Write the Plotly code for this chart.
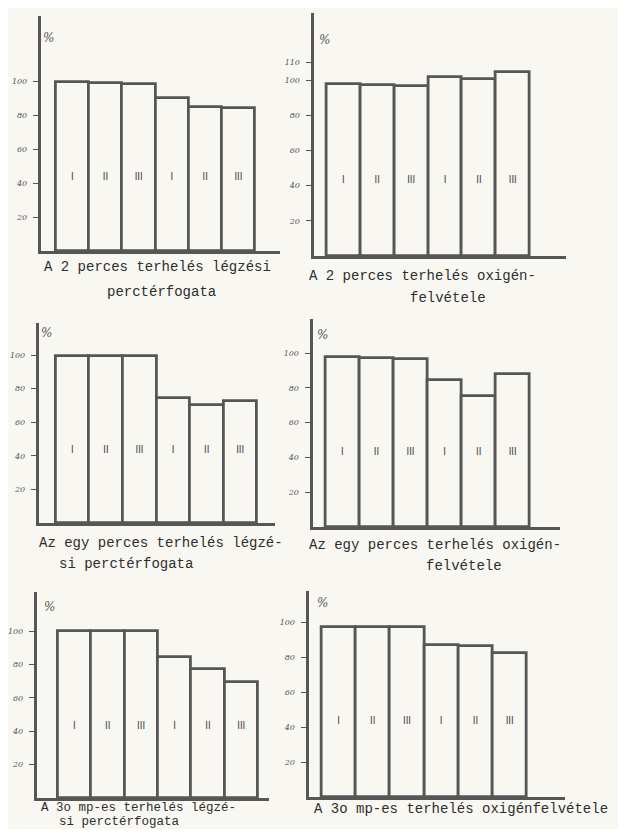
import plotly.graph_objects as go

# The page body has an 8 px margin, so the figure is drawn inside it and
# every pixel position below (measured on the 626x837 screen) is shifted.
OFF = 8
W, H = 626 - 2 * OFF, 837 - 2 * OFF

# ---- data ----
groups = ["I", "II", "III", "I", "II", "III"]
vent_2min = [99.4, 98.8, 98.2, 90.0, 84.7, 84.1]
oxy_2min = [97.7, 97.2, 96.6, 101.7, 100.6, 104.5]
vent_1min = [99.4, 99.4, 99.4, 74.4, 70.2, 72.6]
oxy_1min = [97.7, 97.1, 96.6, 84.5, 75.3, 87.9]
vent_30s = [100.0, 100.0, 100.0, 84.4, 77.2, 69.5]
oxy_30s = [97.1, 97.1, 97.1, 86.9, 86.3, 82.3]
ticks_std = [20, 40, 60, 80, 100]
ticks_110 = [20, 40, 60, 80, 100, 110]

cap_vent_2 = ["A 2 perces terhelés légzési", "perctérfogata"]
cap_oxy_2 = ["A 2 perces terhelés oxigén-", "felvétele"]
cap_vent_1 = ["Az egy perces terhelés légzé-", "si perctérfogata"]
cap_oxy_1 = ["Az egy perces terhelés oxigén-", "felvétele"]
cap_vent_30 = ["A 3o mp-es terhelés légzé-", "si perctérfogata"]
cap_oxy_30 = ["A 3o mp-es terhelés oxigénfelvétele"]

# ---- panel geometry (screen pixels) ----
panels = [
    dict(vals=vent_2min, ticks=ticks_std, ax=36, bl=51, br=252, end=277, base=251, top=16, ppu=1.70,
         pct=(44, 38), cap=cap_vent_2, cap_pos=[(38, 267, "left"), (158, 292, "center")], cs=14),
    dict(vals=oxy_2min, ticks=ticks_110, ax=311, bl=324, br=529, end=566, base=256, top=13, ppu=1.76,
         pct=(322, 40), cap=cap_oxy_2, cap_pos=[(305, 276, "left"), (407, 298, "left")], cs=14),
    dict(vals=vent_1min, ticks=ticks_std, ax=34, bl=51, br=254, end=272, base=523, top=323, ppu=1.68,
         pct=(42, 333), cap=cap_vent_1, cap_pos=[(33, 543, "left"), (53, 564, "left")], cs=14),
    dict(vals=oxy_1min, ticks=ticks_std, ax=310, bl=323, br=529, end=560, base=527, top=319, ppu=1.74,
         pct=(320, 335), cap=cap_oxy_1, cap_pos=[(305, 545, "left"), (423, 566, "left")], cs=14),
    dict(vals=vent_30s, ticks=ticks_std, ax=32, bl=53, br=255, end=266, base=798, top=592, ppu=1.67,
         pct=(45, 607), cap=cap_vent_30, cap_pos=[(35, 808, "left"), (53, 822, "left")], cs=12.5),
    dict(vals=oxy_30s, ticks=ticks_std, ax=306, bl=319, br=526, end=565, base=797, top=591, ppu=1.75,
         pct=(320, 603), cap=cap_oxy_30, cap_pos=[(310, 809, "left")], cs=14),
]

INK = "#565656"
PAPER = "#f8f7f2"
LABEL_Y = 43


def px(x):
    return (x - OFF) / W


def py(y):
    return 1 - (y - OFF) / H


fig = go.Figure()
annotations = []
layout_axes = {}

for i, p in enumerate(panels, start=1):
    xa = "x" if i == 1 else f"x{i}"
    ya = "y" if i == 1 else f"y{i}"
    xs = list(range(len(p["vals"])))
    fig.add_trace(go.Bar(
        x=xs, y=p["vals"], width=1.0, xaxis=xa, yaxis=ya,
        marker=dict(color=PAPER, line=dict(color=INK, width=2.8)),
        showlegend=False, hoverinfo="skip",
    ))
    fig.add_trace(go.Scatter(
        x=xs, y=[LABEL_Y] * len(xs), mode="text", text=groups,
        textfont=dict(family="DejaVu Sans Condensed, DejaVu Sans", size=10, color="#3a3a3a"),
        xaxis=xa, yaxis=ya, showlegend=False, hoverinfo="skip",
    ))
    unit_x = (p["br"] - p["bl"]) / len(xs)
    xr = [-0.5 - (p["bl"] - p["ax"]) / unit_x, len(xs) - 0.5 + (p["end"] - p["br"]) / unit_x]
    yr = [0, (p["base"] - p["top"]) / p["ppu"]]
    xkey = "xaxis" if i == 1 else f"xaxis{i}"
    ykey = "yaxis" if i == 1 else f"yaxis{i}"
    layout_axes[xkey] = dict(
        domain=[px(p["ax"]), px(p["end"])], range=xr, anchor=ya,
        showline=True, linecolor=INK, linewidth=3, showgrid=False, zeroline=False,
        showticklabels=False, ticks="", fixedrange=True,
    )
    layout_axes[ykey] = dict(
        domain=[py(p["base"]), py(p["top"])], range=yr, anchor=xa,
        showline=True, linecolor=INK, linewidth=3, showgrid=False, zeroline=False,
        tickvals=p["ticks"], ticktext=[str(t) for t in p["ticks"]],
        ticks="outside", ticklen=5, tickwidth=1.2, tickcolor=INK,
        ticklabelstandoff=4,
        tickfont=dict(family="DejaVu Serif", size=8, color="#555", style="italic"),
        fixedrange=True,
    )
    annotations.append(dict(
        x=px(p["pct"][0]), y=py(p["pct"][1]), xref="paper", yref="paper",
        text="%", showarrow=False, xanchor="center", yanchor="middle",
        font=dict(family="DejaVu Serif", size=12, color="#555", style="italic"),
    ))
    for line, (cx, cy, anch) in zip(p["cap"], p["cap_pos"]):
        annotations.append(dict(
            x=px(cx), y=py(cy), xref="paper", yref="paper",
            text=line, showarrow=False, xanchor=anch, yanchor="middle",
            borderpad=0,
            font=dict(family="Liberation Mono", size=p["cs"], color="#2e2e2e"),
        ))

fig.update_layout(
    width=W, height=H,
    margin=dict(l=0, r=0, t=0, b=0),
    paper_bgcolor=PAPER, plot_bgcolor=PAPER,
    bargap=0, annotations=annotations,
    **layout_axes,
)

fig.write_html("out.html")
